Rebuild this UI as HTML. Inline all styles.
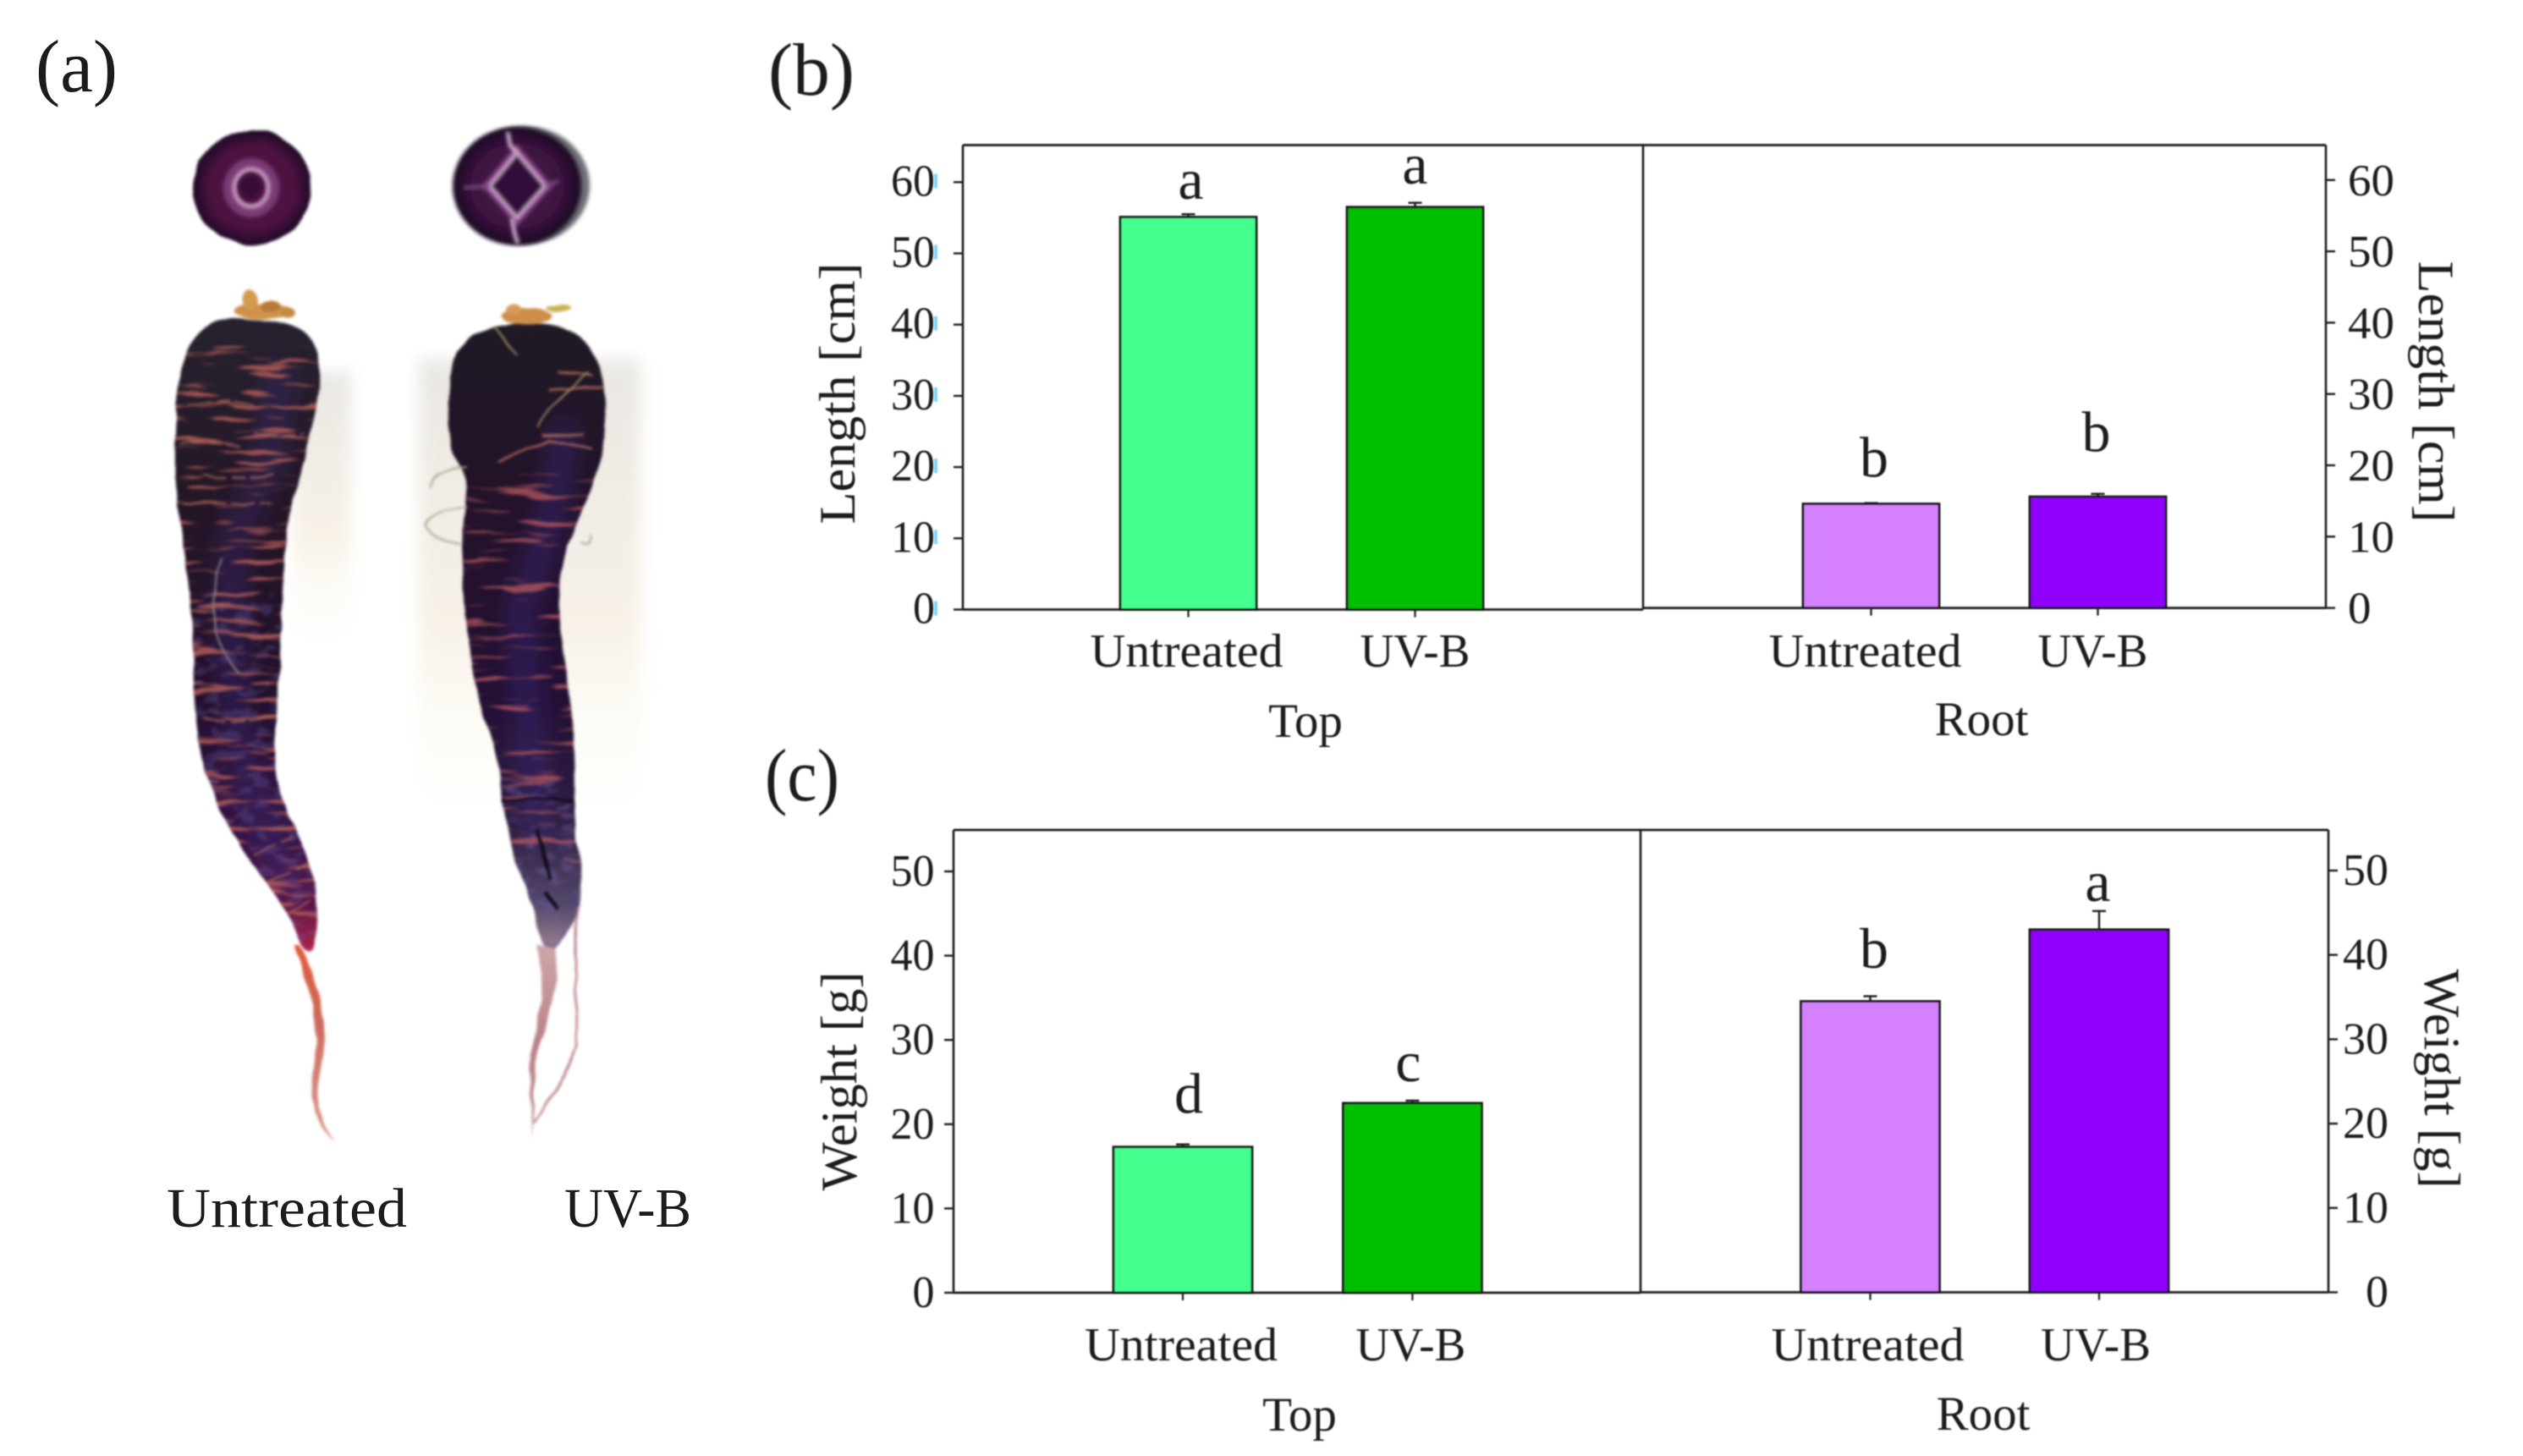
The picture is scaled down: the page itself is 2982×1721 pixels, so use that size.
<!DOCTYPE html>
<html lang="en">
<head>
<meta charset="utf-8">
<title>Carrot photo and bar charts of length and weight</title>
<style>
html,body{margin:0;padding:0;background:#fff;}
#stage{display:block;width:2982px;height:1721px;}
text{font-family:"Liberation Serif","DejaVu Serif",serif;fill:#1c1c1c;}
</style>
</head>
<body>
<svg id="stage" xmlns="http://www.w3.org/2000/svg" width="2982" height="1721" viewBox="0 0 2982 1721">
<defs>
  <filter id="soft" x="-5%" y="-5%" width="110%" height="110%"><feGaussianBlur stdDeviation="0.7"/></filter>
  <filter id="photoBlur" x="-15%" y="-5%" width="130%" height="110%" color-interpolation-filters="sRGB">
    <feTurbulence type="fractalNoise" baseFrequency="0.03" numOctaves="2" seed="4" result="n"/>
    <feDisplacementMap in="SourceGraphic" in2="n" scale="7" xChannelSelector="R" yChannelSelector="G"/>
    <feGaussianBlur stdDeviation="1.5"/>
  </filter>
  <filter id="shadeBlur" x="-30%" y="-30%" width="160%" height="160%"><feGaussianBlur stdDeviation="9"/></filter>
  <filter id="wide" x="-50%" y="-50%" width="200%" height="200%"><feGaussianBlur stdDeviation="14"/></filter>
  <filter id="ringBlur" x="-50%" y="-50%" width="200%" height="200%"><feGaussianBlur stdDeviation="2.4"/></filter>
  <filter id="streaks" x="0" y="0" width="100%" height="100%" color-interpolation-filters="sRGB">
    <feTurbulence type="fractalNoise" baseFrequency="0.014 0.13" numOctaves="2" seed="7"/>
    <feColorMatrix type="matrix" values="0 0 0 0 .70  0 0 0 0 .36  0 0 0 0 .34  9 0 0 0 -5.1"/>
  </filter>
  <filter id="streaksTwo" x="0" y="0" width="100%" height="100%" color-interpolation-filters="sRGB">
    <feTurbulence type="fractalNoise" baseFrequency="0.012 0.12" numOctaves="2" seed="21"/>
    <feColorMatrix type="matrix" values="0 0 0 0 .66  0 0 0 0 .32  0 0 0 0 .36  9 0 0 0 -5.2"/>
  </filter>
  <filter id="mottle" x="0" y="0" width="100%" height="100%" color-interpolation-filters="sRGB">
    <feTurbulence type="fractalNoise" baseFrequency="0.05 0.08" numOctaves="2" seed="11"/>
    <feColorMatrix type="matrix" values="0 0 0 0 .42  0 0 0 0 .36  0 0 0 0 .62  6 0 0 0 -3"/>
  </filter>
  <linearGradient id="carrotOneFill" gradientUnits="userSpaceOnUse" x1="0" y1="374" x2="0" y2="1130">
    <stop offset="0" stop-color="#26222e"/><stop offset=".3" stop-color="#241626"/>
    <stop offset=".6" stop-color="#21102c"/><stop offset=".82" stop-color="#351345"/>
    <stop offset=".92" stop-color="#5c1646"/><stop offset="1" stop-color="#b8244e"/>
  </linearGradient>
  <linearGradient id="carrotTwoFill" gradientUnits="userSpaceOnUse" x1="0" y1="380" x2="0" y2="1130">
    <stop offset="0" stop-color="#1f1a24"/><stop offset=".3" stop-color="#23122a"/>
    <stop offset=".6" stop-color="#231034"/><stop offset=".8" stop-color="#302042"/>
    <stop offset=".92" stop-color="#54486c"/><stop offset="1" stop-color="#a88a96"/>
  </linearGradient>
  <linearGradient id="shadeOne" x1="0" y1="0" x2="0" y2="1">
    <stop offset="0" stop-color="#e6e3df"/><stop offset=".55" stop-color="#f6efe4"/><stop offset="1" stop-color="#fffdf2" stop-opacity="0"/>
  </linearGradient>
  <linearGradient id="tailOneFill" gradientUnits="userSpaceOnUse" x1="0" y1="1120" x2="0" y2="1350">
    <stop offset="0" stop-color="#e05a3a"/><stop offset=".4" stop-color="#cc6a5e"/><stop offset="1" stop-color="#dc9c90"/>
  </linearGradient>
  <linearGradient id="tailTwoFill" gradientUnits="userSpaceOnUse" x1="0" y1="1120" x2="0" y2="1345">
    <stop offset="0" stop-color="#cfa6a8"/><stop offset=".5" stop-color="#b98086"/><stop offset="1" stop-color="#c4969a"/>
  </linearGradient>
  <radialGradient id="sliceOneFill"><stop offset="0" stop-color="#561548"/><stop offset=".7" stop-color="#4c1240"/><stop offset=".92" stop-color="#2c0c2e"/><stop offset="1" stop-color="#220a28"/></radialGradient>
  <radialGradient id="sliceTwoFill"><stop offset="0" stop-color="#4c1648"/><stop offset=".7" stop-color="#3c1240"/><stop offset=".92" stop-color="#220c2a"/><stop offset="1" stop-color="#1c0a24"/></radialGradient>
  <path id="carrotOneShape" d="M311,378.5 Q270,374 251.5,381 Q233,388 222,414.5 Q211,441 208.5,481.5 Q206,522 206.5,555.5 Q207,589 212,618 Q217,647 222,685 Q227,723 228,771.5 Q229,820 231,843.5 Q233,867 239,896 Q245,925 262,960.5 Q279,996 300,1023 Q321,1050 334.5,1072.5 Q348,1095 354,1110.5 Q360,1126 366,1126 Q372,1126 374,1110.5 Q376,1095 374.5,1072.5 Q373,1050 367.5,1027.5 Q362,1005 346,974 Q330,943 326.5,916 Q323,889 326.5,844.5 Q330,800 331.5,761.5 Q333,723 335,678 Q337,633 344.5,599.5 Q352,566 360,539.5 Q368,513 374,479.5 Q380,446 378,428 Q376,410 364,396.5 Q352,383 311,378.5 Z"/>
  <path id="carrotTwoShape" d="M625,383 Q580,383 560,396.5 Q540,410 535.5,428 Q531,446 530,488.5 Q529,531 538.5,542 Q548,553 550,571 Q552,589 549,618 Q546,647 547,685 Q548,723 555,771.5 Q562,820 574.5,854.5 Q587,889 590.5,918 Q594,947 599.5,978.5 Q605,1010 619,1043.5 Q633,1077 635,1094.5 Q637,1112 643.5,1120 Q650,1128 661,1115.5 Q672,1103 677.5,1090 Q683,1077 686.5,1057 Q690,1037 684.5,1008 Q679,979 679,941 Q679,903 676.5,862.5 Q674,822 666,772.5 Q658,723 662,689.5 Q666,656 676,631.5 Q686,607 696.5,582 Q707,557 711,539.5 Q715,522 715,495 Q715,468 711,443.5 Q707,419 688.5,401 Q670,383 625,383 Z"/>
  <clipPath id="carrotOneClip"><use href="#carrotOneShape"/></clipPath>
  <clipPath id="carrotTwoClip"><use href="#carrotTwoShape"/></clipPath>
</defs>
<rect x="0" y="0" width="2982" height="1721" fill="#ffffff"/>

<g>
  <text x="42" y="108" font-size="88" textLength="97" lengthAdjust="spacingAndGlyphs">(a)</text>
  <rect x="345" y="440" width="70" height="340" fill="url(#shadeOne)" opacity=".85" filter="url(#shadeBlur)"/>
  <rect x="495" y="425" width="262" height="560" fill="url(#shadeOne)" opacity=".85" filter="url(#shadeBlur)"/>

  <g>
    <ellipse cx="298" cy="222" rx="70" ry="68" fill="url(#sliceOneFill)" filter="url(#photoBlur)"/>
    <ellipse cx="297" cy="222" rx="26" ry="28" fill="none" stroke="#7a3a74" stroke-width="14" filter="url(#ringBlur)"/>
    <ellipse cx="297" cy="222" rx="20" ry="22" fill="none" stroke="#c8a2c2" stroke-width="5" filter="url(#ringBlur)"/>
    <ellipse cx="296" cy="221" rx="13" ry="14" fill="#360e38" filter="url(#ringBlur)"/>
  </g>
  <g>
    <ellipse cx="620" cy="219" rx="77" ry="70" fill="#6e7076" filter="url(#ringBlur)"/>
    <ellipse cx="611" cy="220" rx="76" ry="70" fill="url(#sliceTwoFill)" filter="url(#ringBlur)"/>
    <path d="M611,180 L645,220 L611,258 L578,220 Z" fill="none" stroke="#7a3e80" stroke-width="13" filter="url(#ringBlur)"/>
    <path d="M611,180 L645,220 L611,258 L578,220 Z" fill="#33103a" stroke="#cfa8cc" stroke-width="4" filter="url(#ringBlur)"/>
    <path d="M600,156 L603,172 L611,180 M605,258 L608,275 L612,288" fill="none" stroke="#d8b8d4" stroke-width="4.5" filter="url(#ringBlur)"/>
    <path d="M578,220 L548,222 M645,220 L660,214" stroke="#7a4a80" stroke-width="4" fill="none" filter="url(#ringBlur)"/>
  </g>

  <g filter="url(#photoBlur)">
    <g fill="#cf9248">
      <ellipse cx="312" cy="368" rx="36" ry="9"/>
      <ellipse cx="296" cy="354" rx="9" ry="12" fill="#d49a50"/>
      <ellipse cx="320" cy="362" rx="12" ry="7" fill="#b87a38"/>
      <ellipse cx="340" cy="370" rx="9" ry="6" fill="#c08a40"/>
    </g>
    <use href="#carrotOneShape" fill="url(#carrotOneFill)"/>
    <g clip-path="url(#carrotOneClip)">
      <path d="M330,430 L320,540 L275,640 L275,800 L290,920 L350,1060" fill="none" stroke="#3c2a70" stroke-opacity=".5" stroke-width="30" filter="url(#wide)"/>
      <rect x="200" y="700" width="190" height="430" filter="url(#mottle)" opacity=".32"/>
      <rect x="200" y="410" width="190" height="720" filter="url(#streaks)" opacity=".85"/>
      <path d="M262,660 Q248,700 256,740 Q262,780 284,796" fill="none" stroke="#8a8084" stroke-width="2"/>
      <path d="M222,480 Q260,470 300,478 M300,512 Q330,520 360,512 M212,525 Q240,518 285,528 M240,560 Q280,572 325,560 M216,595 H320 M240,850 Q280,858 326,846 M300,1010 L355,985 M318,1042 L368,1020 M342,1078 L374,1060" fill="none" stroke="#a86a58" stroke-width="2.6" stroke-opacity=".7" stroke-dasharray="28 7 16 5"/>
    </g>
    <path d="M354,1116 Q372,1150 380,1190 Q386,1240 377,1270 Q371,1290 377,1313 Q384,1335 398,1350 Q378,1335 371,1312 Q365,1285 372,1255 Q376,1215 366,1175 Q358,1150 348,1116 Z" fill="url(#tailOneFill)"/>
  </g>

  <g filter="url(#photoBlur)">
    <g fill="#cf8e48">
      <ellipse cx="622" cy="374" rx="30" ry="10"/>
      <ellipse cx="608" cy="366" rx="10" ry="6" fill="#d49a58"/>
      <ellipse cx="660" cy="364" rx="15" ry="4" fill="#c8b050"/>
    </g>
    <use href="#carrotTwoShape" fill="url(#carrotTwoFill)"/>
    <g clip-path="url(#carrotTwoClip)">
      <path d="M670,500 L650,620 L615,720 L625,860 L640,1000" fill="none" stroke="#38287a" stroke-opacity=".55" stroke-width="30" filter="url(#wide)"/>
      <rect x="580" y="920" width="115" height="210" filter="url(#mottle)" opacity=".45"/>
      <rect x="525" y="560" width="195" height="460" filter="url(#streaksTwo)" opacity=".85"/>
      <path d="M660,440 L700,444 M650,460 L712,458 M640,515 L690,512 M590,545 L625,530 L650,520 L700,530" fill="none" stroke="#b06a5c" stroke-width="3" stroke-opacity=".85"/>
      <path d="M594,945 H678" fill="none" stroke="#15081c" stroke-width="3"/>
      <path d="M636,980 L642,1010 L650,1040 M645,1055 L660,1075" fill="none" stroke="#0e0a14" stroke-width="4"/>
      <path d="M583,388 Q600,405 612,418 M695,440 Q660,470 635,505" fill="none" stroke="#a89060" stroke-width="2"/>
    </g>
    <path d="M552,553 Q512,556 508,575 M552,600 Q502,605 502,622 Q515,640 546,642 M686,640 Q700,645 698,632" fill="none" stroke="#a8a894" stroke-width="2"/>
    <path d="M634,1118 L656,1122 Q660,1160 649,1190 Q638,1230 632,1270 Q630,1310 629,1345 Q625,1300 627,1260 Q632,1210 640,1180 Q640,1150 634,1118 Z" fill="url(#tailTwoFill)"/>
    <path d="M683,1072 Q679,1110 680,1135 Q683,1190 681,1237 Q672,1262 660,1282 Q645,1305 631,1327" fill="none" stroke="#b88084" stroke-width="2.6" stroke-linecap="round"/>
  </g>

  <text x="197" y="1450" font-size="66" textLength="284" lengthAdjust="spacingAndGlyphs">Untreated</text>
  <text x="667" y="1450" font-size="66" textLength="150" lengthAdjust="spacingAndGlyphs">UV-B</text>
</g>

<g id="charts" filter="url(#soft)">
  <text x="908" y="112" font-size="88" textLength="102" lengthAdjust="spacingAndGlyphs">(b)</text>
  <text x="904" y="946" font-size="88" textLength="88" lengthAdjust="spacingAndGlyphs">(c)</text>
</g>
</svg>

<script>
const categories = ['Untreated', 'UV-B'];
const lengthTicks = [0, 10, 20, 30, 40, 50, 60];
const weightTicks = [0, 10, 20, 30, 40, 50];
const lengthTop = [55.1, 56.5];
const lengthTopErr = [0.4, 0.6];
const lengthTopLetters = ['a', 'a'];
const lengthRoot = [14.6, 15.6];
const lengthRootErr = [0.1, 0.4];
const lengthRootLetters = ['b', 'b'];
const weightTop = [17.3, 22.5];
const weightTopErr = [0.3, 0.3];
const weightTopLetters = ['d', 'c'];
const weightRoot = [34.5, 43.0];
const weightRootErr = [0.6, 2.2];
const weightRootLetters = ['b', 'a'];

const INK = '#1c1c1c';
const SVGNS = 'http://www.w3.org/2000/svg';
const charts = document.getElementById('charts');

function el(tag, attrs, parent, text) {
  const node = document.createElementNS(SVGNS, tag);
  for (const key in attrs) node.setAttribute(key, attrs[key]);
  if (text !== undefined) node.textContent = text;
  parent.appendChild(node);
  return node;
}

function linearY(zeroPx, pxPerUnit) {
  return function (value) { return zeroPx - value * pxPerUnit; };
}

function drawYAxis(parent, o) {
  const axis = el('line', { x1: o.x, x2: o.x, y1: o.top, y2: o.y(0), stroke: INK, 'stroke-width': 2.6 }, parent);
  
  
  o.ticks.forEach(function (t) {
    const y = o.y(t);
    const mark = el('line', { x1: o.x, x2: o.x + o.dir * 11, y1: y, y2: y, stroke: INK, 'stroke-width': 2.4 }, parent);
    
    
    const s = String(t);
    const label = el('text', {
      x: o.labelX, y: y + o.labelDy, 'font-size': 53, 'text-anchor': o.anchor,
      textLength: s.length * o.digitWidth, lengthAdjust: 'spacingAndGlyphs'
    }, parent, s);
    
    
    if (o.artifact) {
      const speck = el('rect', { x: o.labelX - 1, y: y - 10, width: 4, height: 17, fill: '#66ccff', opacity: 0.85 }, parent);
      
      
    }
  });
}

function drawGroup(parent, o) {
  const g = el('g', {}, parent);
  
  

  const base = el('line', { x1: o.axisLeft, x2: o.axisRight, y1: o.y(0), y2: o.y(0), stroke: INK, 'stroke-width': 2.8 }, g);
  
  
  const ceil = el('line', { x1: o.axisLeft, x2: o.axisRight, y1: o.top, y2: o.top, stroke: INK, 'stroke-width': 2.8 }, g);
  
  

  categories.forEach(function (cat, i) {
    const left = o.barX + i * o.barStep;
    const center = left + o.barWidth / 2;
    const top = o.y(o.values[i]);
    const errTop = o.y(o.values[i] + o.errors[i]);

    const stem = el('line', { x1: center, x2: center, y1: top, y2: errTop, stroke: INK, 'stroke-width': 2.4 }, g);
    
    
    const cap = el('line', { x1: center - 8, x2: center + 8, y1: errTop, y2: errTop, stroke: INK, 'stroke-width': 2.4 }, g);
    
    

    const bar = el('rect', {
      x: left, y: top, width: o.barWidth, height: o.y(0) - top,
      fill: o.colors[i], stroke: '#141414', 'stroke-width': 2.8
    }, g);
    
    

    const tick = el('line', { x1: center, x2: center, y1: o.y(0), y2: o.y(0) + 9, stroke: INK, 'stroke-width': 2.2 }, g);
    
    

    const letter = el('text', {
      x: center + o.letterDx[i], y: top - o.letterGap[i], 'font-size': 68, 'text-anchor': 'middle'
    }, g, o.letters[i]);
    
    

    const catLabel = el('text', {
      x: center + o.labelDx[i], y: o.labelY, 'font-size': 56, 'text-anchor': 'middle',
      textLength: i === 0 ? 228 : 130, lengthAdjust: 'spacingAndGlyphs'
    }, g, cat);
    
    
  });

  const groupLabel = el('text', { x: o.groupX, y: o.groupY, 'font-size': 57, 'text-anchor': 'middle' }, g, o.group);
  
  
}

function axisTitle(parent, name, text, x, y, angle, length) {
  const t = el('text', {
    x: x, y: y, 'font-size': 60, 'text-anchor': 'middle',
    transform: 'rotate(' + angle + ' ' + x + ' ' + y + ')',
    textLength: length, lengthAdjust: 'spacingAndGlyphs'
  }, parent, text);
  
  
}

const GREENS = ['#42ff8e', '#00c000'];
const PURPLES = ['#d480ff', '#9000ff'];

/* ---------- panel b: length ---------- */
const panelB = el('g', {}, charts);


const yBLeft = linearY(720.5, 8.42);
const yBRight = linearY(718.6, 8.43);

drawGroup(panelB, {
  name: 'length-top', group: 'Top', values: lengthTop, errors: lengthTopErr, letters: lengthTopLetters,
  colors: GREENS, y: yBLeft, top: 171.5, axisLeft: 1138, axisRight: 1942,
  barX: 1324, barStep: 268, barWidth: 161,
  letterDx: [3, 0], letterGap: [21.6, 28], labelDx: [-2, 0], labelY: 788, groupX: 1543, groupY: 871
});
drawGroup(panelB, {
  name: 'length-root', group: 'Root', values: lengthRoot, errors: lengthRootErr, letters: lengthRootLetters,
  colors: PURPLES, y: yBRight, top: 171.5, axisLeft: 1942, axisRight: 2749,
  barX: 2131, barStep: 268, barWidth: 161,
  letterDx: [3.5, -2], letterGap: [32, 53.4], labelDx: [-7, -6], labelY: 788, groupX: 2342, groupY: 869
});
drawYAxis(panelB, { name: 'length-left', x: 1138, dir: -1, top: 171.5, y: yBLeft, ticks: lengthTicks, labelX: 1105, labelDy: 16, anchor: 'end', artifact: true, digitWidth: 26 });
drawYAxis(panelB, { name: 'length-right', x: 2749, dir: 1, top: 171.5, y: yBRight, ticks: lengthTicks, labelX: 2775, labelDy: 18, anchor: 'start', artifact: false, digitWidth: 27.5 });
drawYAxis(panelB, { name: 'length-divider', x: 1942, dir: 0, top: 171.5, y: yBLeft, ticks: [], labelX: 0, labelDy: 0, anchor: 'start', artifact: false, digitWidth: 26 });
axisTitle(panelB, 'length-left-y-axis-title', 'Length [cm]', 1010, 465, -90, 309);
axisTitle(panelB, 'length-right-y-axis-title', 'Length [cm]', 2859, 463, 90, 309);

/* ---------- panel c: weight ---------- */
const panelC = el('g', {}, charts);


const yCLeft = linearY(1528, 9.96);
const yCRight = linearY(1527.5, 9.97);

drawGroup(panelC, {
  name: 'weight-top', group: 'Top', values: weightTop, errors: weightTopErr, letters: weightTopLetters,
  colors: GREENS, y: yCLeft, top: 981, axisLeft: 1127, axisRight: 1939,
  barX: 1316, barStep: 271.4, barWidth: 164,
  letterDx: [7, -5], letterGap: [40, 25.7], labelDx: [-2, -2], labelY: 1608, groupX: 1536, groupY: 1691
});
drawGroup(panelC, {
  name: 'weight-root', group: 'Root', values: weightRoot, errors: weightRootErr, letters: weightRootLetters,
  colors: PURPLES, y: yCRight, top: 981, axisLeft: 1939, axisRight: 2752,
  barX: 2128.5, barStep: 270.5, barWidth: 164,
  letterDx: [4.5, -1.5], letterGap: [39.5, 34], labelDx: [-3, -4], labelY: 1608, groupX: 2344, groupY: 1690
});
drawYAxis(panelC, { name: 'weight-left', x: 1127, dir: -1, top: 981, y: yCLeft, ticks: weightTicks, labelX: 1104.5, labelDy: 17, anchor: 'end', artifact: false, digitWidth: 26 });
drawYAxis(panelC, { name: 'weight-right', x: 2752, dir: 1, top: 981, y: yCRight, ticks: weightTicks, labelX: 2823, labelDy: 17, anchor: 'end', artifact: false, digitWidth: 27 });
drawYAxis(panelC, { name: 'weight-divider', x: 1939, dir: 0, top: 981, y: yCLeft, ticks: [], labelX: 0, labelDy: 0, anchor: 'start', artifact: false, digitWidth: 26 });
axisTitle(panelC, 'weight-left-y-axis-title', 'Weight [g]', 1012, 1278, -90, 259);
axisTitle(panelC, 'weight-right-y-axis-title', 'Weight [g]', 2866, 1275, 90, 259);
</script>
</body>
</html>
